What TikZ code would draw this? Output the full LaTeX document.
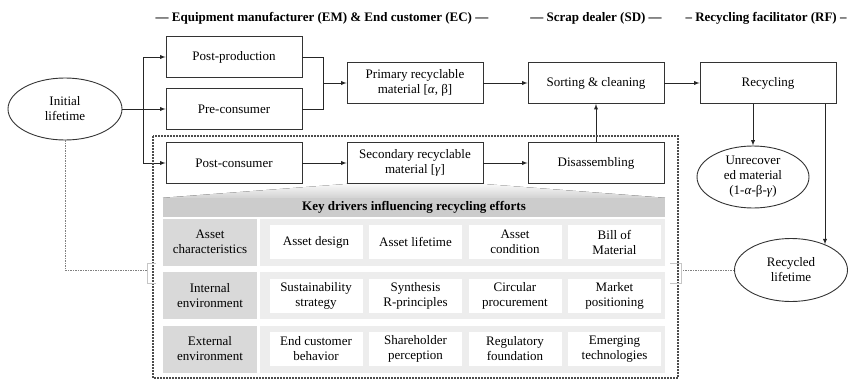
\documentclass[tikz,border=0pt]{standalone}
\usepackage{fontspec}
\setmainfont{Liberation Serif}
\usepackage{amsmath}
\usetikzlibrary{shapes.geometric, positioning, arrows, backgrounds}

\begin{document}
\begin{tikzpicture}[x=1pt, y=-1pt, on grid, node distance=99.5pt, >=latex,
    font=\fontsize{13}{15}\selectfont,
    box/.style={draw=black!80, line width=0.9pt, minimum width=136pt, minimum height=41pt, align=center, inner sep=2pt},
    life/.style={ellipse, draw=black!80, line width=0.9pt, align=center, inner sep=0pt, minimum width=114pt, minimum height=62pt},
    phase/.style={font=\fontsize{13}{15}\selectfont\bfseries},
    rowlab/.style={fill=gray!30, minimum width=94pt, minimum height=47pt, align=center, inner sep=1pt},
    rowbg/.style={fill=gray!14, minimum width=405pt, minimum height=47pt},
    cell/.style={fill=white, minimum width=93pt, minimum height=34pt, align=center, inner sep=1pt},
    flow/.style={->, draw=black!85, line width=0.9pt},
    link/.style={draw=gray, line width=0.6pt, dash pattern=on 1.5pt off 1pt},
    bracket/.style={draw=gray!45, line width=0.8pt}]

    \useasboundingbox (0,0) rectangle (851,380);

    % actors
    \node[phase] (emec) at (322,18) {— Equipment manufacturer (EM) \& End customer (EC) —};
    \node[phase] (sd) at (596,18) {— Scrap dealer (SD) —};
    \node[phase] (rf) at (766,18) {– Recycling facilitator (RF) –};

    % material flow
    \node[life] (init) at (65,109) {Initial\\lifetime};
    \node[box] (precons) at (234,109) {Pre-consumer};
    \node[box, above=52pt of precons] (postprod) {Post-production};
    \node[box, below=54pt of precons] (postcons) {Post-consumer};
    \node[box, right=181pt of postcons] (secmat) {Secondary recyclable\\material [\textit{γ}]};
    \node[box, right=181pt of secmat] (disasm) {Disassembling};
    \node[box, above=80pt of disasm] (sort) {Sorting \& cleaning};
    \node[box, left=181pt of sort] (primat) {Primary recyclable\\material [\textit{α}, β]};
    \node[box, right=172pt of sort] (recyc) {Recycling};
    \node[life, minimum width=112pt] (unrec) at (753,177) {Unrecover\\ed material\\(1-\textit{α}-β-\textit{γ})};
    \node[life, minimum width=113pt, minimum height=63pt] (recycled) at (791,270) {Recycled\\lifetime};

    \coordinate (split) at (143,109);
    \coordinate (merge) at (323,83);
    \draw[flow] (init) -- (precons);
    \draw[flow] (split) |- (postprod);
    \draw[flow] (split) |- (postcons);
    \draw[black!85, line width=0.9pt] (postprod) -| (merge);
    \draw[black!85, line width=0.9pt] (precons) -| (merge);
    \draw[flow] (merge) -- (primat);
    \draw[flow] (primat) -- (sort);
    \draw[flow] (postcons) -- (secmat);
    \draw[flow] (secmat) -- (disasm);
    \draw[flow] (disasm) -- (sort);
    \draw[flow] (sort) -- (recyc);
    \draw[flow] (unrec.north |- recyc.south) -- (unrec);
    \draw[flow] (recycled.37 |- recyc.south) -- (recycled.37);

    % key drivers
    \draw[draw=black!70, line width=1.1pt, dash pattern=on 2pt off 1pt] (153,136) rectangle (678,378);
    \node[fill=gray!40, minimum width=502pt, minimum height=19pt, inner sep=0pt, font=\fontsize{13}{15}\selectfont\bfseries] (kdtitle) at (414,207.5) {Key drivers influencing recycling efforts};
    \begin{scope}[on background layer]
        \fill[top color=gray!5, bottom color=gray!35] (secmat.south west) -- (secmat.south east) -- (kdtitle.north east) -- (kdtitle.north west) -- cycle;
    \end{scope}

    \node[rowlab] (asset) at (210,242) {Asset\\characteristics};
    \node[rowlab, below=53.5pt of asset] (intenv) {Internal\\environment};
    \node[rowlab, below=53.5pt of intenv] (extenv) {External\\environment};
    \node[rowbg, right=252.5pt of asset] (assetbg) {};
    \node[rowbg, right=252.5pt of intenv] (intbg) {};
    \node[rowbg, right=252.5pt of extenv] (extbg) {};

    \node[cell, right=106pt of asset] (design) {Asset design};
    \node[cell, right=of design] (lifespan) {Asset lifetime};
    \node[cell, right=of lifespan] (condition) {Asset\\condition};
    \node[cell, right=of condition] (bom) {Bill of\\Material};

    \node[cell, right=106pt of intenv] (strategy) {Sustainability\\strategy};
    \node[cell, right=of strategy] (rprinc) {Synthesis\\R-principles};
    \node[cell, right=of rprinc] (procure) {Circular\\procurement};
    \node[cell, right=of procure] (market) {Market\\positioning};

    \node[cell, right=106pt of extenv] (behavior) {End customer\\behavior};
    \node[cell, right=of behavior] (holder) {Shareholder\\perception};
    \node[cell, right=of holder] (regul) {Regulatory\\foundation};
    \node[cell, right=of regul] (tech) {Emerging\\technologies};

    % lifetimes to drivers
    \coordinate (lbr) at (147,270);
    \coordinate (rbr) at (681,270);
    \draw[link] (init) |- (lbr);
    \draw[link] (recycled) -- (rbr);
    \draw[bracket] (156,263) -- (147,263) -- (147,283) -- (156,283);
    \draw[bracket] (670,263) -- (681,263) -- (681,283) -- (670,283);
\end{tikzpicture}
\end{document}
